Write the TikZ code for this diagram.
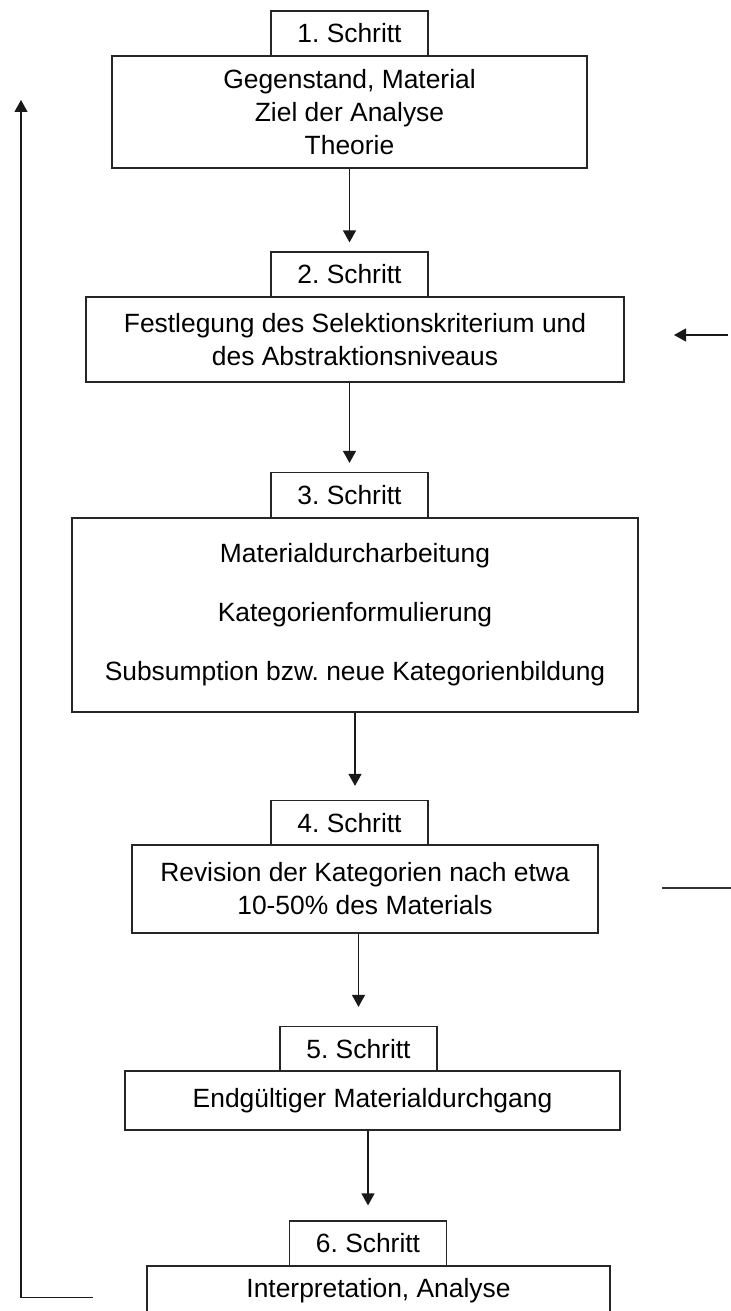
\documentclass[tikz,border=0pt]{standalone}
\usepackage{fontspec}
\setmainfont{Liberation Sans}
\frenchspacing
\usetikzlibrary{arrows.meta, positioning, calc}

\tikzset{
    stepbox/.style={draw=black!85, line width=0.6pt, rectangle, align=center,
        inner sep=0pt, font=\fontsize{13.2}{16.5}\selectfont},
    tagbox/.style={stepbox, minimum width=78.5pt, minimum height=22.5pt},
    flow/.style={->, line width=0.6pt, draw=black!90},
    >={Triangle[width=6.5pt, length=6pt]}
}

\begin{document}
\begin{tikzpicture}[x=0.5pt, y=-0.5pt]
    \useasboundingbox (0, 0) rectangle (731, 1311);

    % steps
    \node[tagbox] (l1) at (349.5, 33.5) {1. Schritt};
    \node[stepbox, minimum width=237.5pt, minimum height=56pt] (b1) at (349.5, 112)
        {Gegenstand, Material\\Ziel der Analyse\\Theorie};

    \node[tagbox] (l2) at (349.5, 274.5) {2. Schritt};
    \node[stepbox, minimum width=269pt, minimum height=42.5pt] (b2) at (355, 339.5)
        {Festlegung des Selektionskriterium und\\des Abstraktionsniveaus};

    \node[tagbox] (l3) at (349.5, 495) {3. Schritt};
    \node[stepbox, minimum width=283pt, minimum height=97pt] (b3) at (355, 615)
        {Materialdurcharbeitung\\[13pt]Kategorienformulierung\\[13pt]Subsumption bzw. neue Kategorienbildung};

    \node[tagbox] (l4) at (349.5, 823) {4. Schritt};
    \node[stepbox, minimum width=233pt, minimum height=44pt] (b4) at (365, 889)
        {Revision der Kategorien nach etwa\\10-50\% des Materials};

    \node[tagbox] (l5) at (358.5, 1049) {5. Schritt};
    \node[stepbox, minimum width=247.5pt, minimum height=29.5pt] (b5) at (372.5, 1100.5)
        {Endgültiger Materialdurchgang};

    \node[tagbox] (l6) at (368, 1243.5) {6. Schritt};
    \node[stepbox, minimum width=231.5pt, minimum height=25pt] (b6) at (378.5, 1291)
        {Interpretation, Analyse};

    % flow between steps
    \draw[flow, shorten >=4.5pt] (b1) -- (l2);
    \draw[flow, shorten >=4.5pt] (b2.south -| l3.north) -- (l3.north);
    \draw[flow, shorten >=7pt] (b3.south) -- (b3.south |- l4.north);
    \draw[flow, shorten >=9.5pt] (b4.south -| l5.north) -- (l5.north);
    \draw[flow, shorten >=7.5pt] (b5.south -| l6.north) -- (l6.north);

    % feedback lines at the edges
    \coordinate (backstart) at (92.7, 1297.7);
    \coordinate (backend) at (21, 100);
    \draw[flow] (backstart) -- (backstart -| backend) -- (backend);

    \coordinate (rightin) at (728, 335);
    \coordinate (righttip) at (674, 335);
    \draw[flow] (rightin) -- (righttip);

    \coordinate (rightout) at (662, 888);
    \coordinate (rightedge) at (731, 888);
    \draw[line width=0.6pt, draw=black!80] (rightout) -- (rightedge);
\end{tikzpicture}
\end{document}
